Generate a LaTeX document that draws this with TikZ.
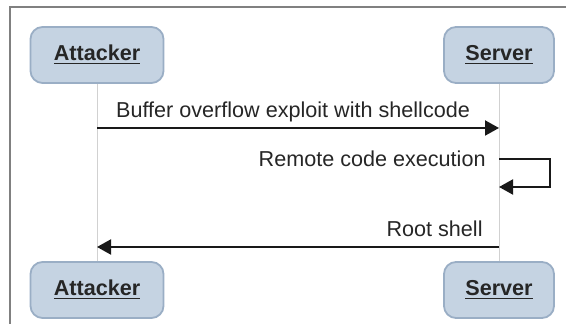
\documentclass[tikz,border=0pt]{standalone}
\usepackage{fontspec}
\setmainfont{Liberation Sans}
\usepackage{xcolor}
\usetikzlibrary{arrows.meta,positioning}
\definecolor{actorfill}{HTML}{C5D3E2}
\definecolor{actordraw}{HTML}{9AAEC5}

\begin{document}
\begin{tikzpicture}[
    x=0.5pt, y=-0.5pt,
    % Participants
    actor/.style={rectangle, rounded corners=6pt, draw=actordraw, fill=actorfill, line width=0.9pt, minimum height=28pt, font=\fontsize{10.8}{13}\selectfont\bfseries, text=black!85},
    % Lifelines and messages
    lifeline/.style={draw=black!18, line width=0.5pt},
    msg/.style={draw=black!90, line width=1pt, -{Triangle[length=7pt, width=7.5pt]}},
    msglabel/.style={font=\fontsize{10.8}{13}\selectfont, text=black!85, inner sep=0pt}
]
\useasboundingbox (0,0) rectangle (566,324);

% Frame
\draw[black!50, line width=1pt] (566,7) -- (10,7) -- (10,324);

% Participants - top and bottom
\node[actor, minimum width=66.5pt] (attTop) at (97,55) {\underline{Attacker}};
\node[actor, minimum width=55pt] (srvTop) at (499,55) {\underline{Server}};
\node[actor, minimum width=66.5pt] (attBot) at (97,290) {\underline{Attacker}};
\node[actor, minimum width=55pt] (srvBot) at (499,290) {\underline{Server}};

% Lifelines
\draw[lifeline] (attTop) -- (attBot);
\draw[lifeline] (srvTop) -- (srvBot);

% Message end points
\coordinate (m1a) at (attTop |- 0,128);
\coordinate (m1b) at (srvTop |- 0,128);
\coordinate (m2a) at (srvTop |- 0,159);
\coordinate (m2b) at (srvTop |- 0,187);
\coordinate (m3a) at (srvTop |- 0,247);
\coordinate (m3b) at (attTop |- 0,247);

% Messages
\draw[msg] (m1a) -- (m1b) node[msglabel, midway, above=2.5pt, xshift=-2.5pt] {Buffer overflow exploit with shellcode};
\draw[msg] (m2a) -- ++(51,0) |- (m2b);
\node[msglabel, anchor=east, xshift=-6.5pt] (rce) at (m2a) {Remote code execution};
\draw[msg] (m3a) -- (m3b);
\node[msglabel, anchor=south east, xshift=-8pt, yshift=5pt] (root) at (m3a) {Root shell};

\end{tikzpicture}
\end{document}
